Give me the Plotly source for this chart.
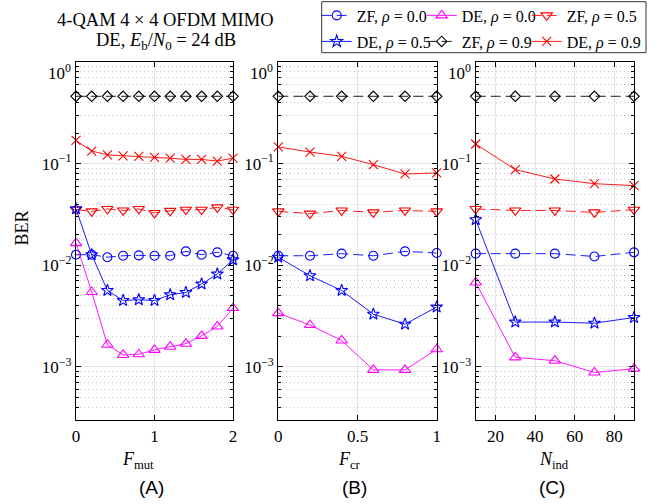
import numpy as np
import plotly.graph_objects as go

# ---------------- data ----------------
F_mut = [0.0, 0.2, 0.4, 0.6, 0.8, 1.0, 1.2, 1.4, 1.6, 1.8, 2.0]
F_cr = [0.0, 0.2, 0.4, 0.6, 0.8, 1.0]
N_ind = [10, 30, 50, 70, 90]

# panel (A): BER vs F_mut
zf_rho00_A = [0.0127, 0.0127, 0.0120, 0.0124, 0.0125, 0.0124, 0.0124, 0.0137, 0.0127, 0.0134, 0.0124]
de_rho00_A = [0.0165, 0.00545, 0.00165, 0.00131, 0.00133, 0.00147, 0.00158, 0.00169, 0.00202, 0.0025, 0.00379]
zf_rho05_A = [0.0352, 0.0339, 0.0358, 0.0346, 0.0358, 0.0327, 0.0343, 0.0352, 0.0352, 0.0371, 0.0352]
de_rho05_A = [0.0359, 0.0127, 0.00565, 0.0045, 0.00457, 0.0045, 0.00512, 0.0054, 0.00653, 0.00819, 0.0113]
zf_rho09_A = [0.46, 0.46, 0.46, 0.46, 0.46, 0.46, 0.46, 0.46, 0.46, 0.46, 0.46]
de_rho09_A = [0.169, 0.133, 0.122, 0.119, 0.118, 0.115, 0.113, 0.110, 0.110, 0.106, 0.113]

# panel (B): BER vs F_cr
zf_rho00_B = [0.0124, 0.0124, 0.0130, 0.0124, 0.0137, 0.0132]
de_rho00_B = [0.00338, 0.00258, 0.00182, 0.000934, 0.000934, 0.00149]
zf_rho05_B = [0.0339, 0.0322, 0.0346, 0.0331, 0.0346, 0.0339]
de_rho05_B = [0.0120, 0.00788, 0.00565, 0.0033, 0.00263, 0.00388]
zf_rho09_B = [0.46, 0.46, 0.46, 0.46, 0.46, 0.46]
de_rho09_B = [0.146, 0.130, 0.118, 0.0977, 0.0791, 0.081]

# panel (C): BER vs N_ind
zf_rho00_C = [0.0130, 0.0130, 0.0130, 0.0122, 0.0134]
de_rho00_C = [0.00677, 0.00124, 0.00115, 0.00088, 0.00096]
zf_rho05_C = [0.0358, 0.0346, 0.0346, 0.0331, 0.0352]
de_rho05_C = [0.0281, 0.00276, 0.00276, 0.00269, 0.00306]
zf_rho09_C = [0.46, 0.46, 0.46, 0.46, 0.46]
de_rho09_C = [0.156, 0.0873, 0.0706, 0.0635, 0.0607]

series_names = ["ZF, <i>ρ</i> = 0.0", "DE, <i>ρ</i> = 0.0", "ZF, <i>ρ</i> = 0.5",
                "DE, <i>ρ</i> = 0.5", "ZF, <i>ρ</i> = 0.9", "DE, <i>ρ</i> = 0.9"]
y_tick_vals = [1e-3, 1e-2, 1e-1, 1]
y_tick_text = ["10<sup>−3</sup>", "10<sup>−2</sup>", "10<sup>−1</sup>", ""]
y_top_label = "10<sup>0</sup>"
x_titles = ["<i>F</i><sub>mut</sub>", "<i>F</i><sub>cr</sub>", "<i>N</i><sub>ind</sub>"]
panel_labels = ["(A)", "(B)", "(C)"]

# ---------------- styling ----------------
W, H = 665, 504
ML, MR, MT, MB = 76, 31, 62, 84
PW = W - ML - MR
PH = H - MT - MB
def px_x(px):
    return (px - ML) / PW
def px_y(py):
    return (H - MB - py) / PH

SERIF = "Liberation Serif"
styles = [
    dict(color="#0000ff", symbol="circle-open", size=9, dash="10px,5px"),
    dict(color="#ff00ff", symbol="triangle-up-open", size=10, dash="solid"),
    dict(color="#ff0000", symbol="triangle-down-open", size=10, dash="10px,5px"),
    dict(color="#0000ff", symbol="star-open", size=9, dash="solid"),
    dict(color="#000000", symbol="diamond-open", size=8, dash="10px,5px"),
    dict(color="#ff0000", symbol="x-thin-open", size=9, dash="solid"),
]
legend_of = ["legend", "legend", "legend", "legend2", "legend2", "legend2"]
legend_w = [60, 60, 80, 60, 60, 80]

panels = [
    (F_mut, [zf_rho00_A, de_rho00_A, zf_rho05_A, de_rho05_A, zf_rho09_A, de_rho09_A]),
    (F_cr, [zf_rho00_B, de_rho00_B, zf_rho05_B, de_rho05_B, zf_rho09_B, de_rho09_B]),
    (N_ind, [zf_rho00_C, de_rho00_C, zf_rho05_C, de_rho05_C, zf_rho09_C, de_rho09_C]),
]
x_ranges = [[0, 2], [0, 1], [10, 90]]
x_ticks = [[0, 1, 2], [0, 0.5, 1], [20, 40, 60, 80]]
dom_px = [(76, 233), (278.3, 436.7), (475.7, 634)]

fig = go.Figure()
for p, (xs, ys_list) in enumerate(panels):
    sfx = "" if p == 0 else str(p + 1)
    for s, ys in enumerate(ys_list):
        st = styles[s]
        fig.add_trace(go.Scatter(
            x=xs, y=ys, mode="lines+markers",
            name=series_names[s], legend=legend_of[s], legendgroup=str(s),
            legendwidth=legend_w[s],
            showlegend=(p == 0),
            xaxis="x" + sfx, yaxis="y" + sfx,
            line=dict(color=st["color"], width=0.9, dash=st["dash"]),
            marker=dict(symbol=st["symbol"], size=st["size"], color=st["color"],
                        line=dict(color=st["color"], width=1.1)),
            cliponaxis=False,
        ))

minor_vals = [m * 10.0 ** e for e in range(-4, 0) for m in range(2, 10)]
tickfont = dict(family=SERIF, size=17, color="black")
layout = dict(
    width=W, height=H, margin=dict(l=ML, r=MR, t=MT, b=MB, autoexpand=False),
    paper_bgcolor="white", plot_bgcolor="white", showlegend=True,
    font=dict(family=SERIF, color="black"),
)
for p in range(3):
    sfx = "" if p == 0 else str(p + 1)
    a, b = dom_px[p]
    layout["xaxis" + sfx] = dict(
        domain=[px_x(a), px_x(b)], anchor="y" + sfx, range=x_ranges[p],
        tickmode="array", tickvals=x_ticks[p], ticks="inside", ticklen=5,
        tickcolor="black", showline=True, linecolor="black", linewidth=1.2,
        mirror="ticks", showgrid=True, gridcolor="#e4e4e4", gridwidth=1,
        zeroline=False, tickfont=tickfont,
    )
    layout["yaxis" + sfx] = dict(
        domain=[0, 1], anchor="x" + sfx, type="log", range=[np.log10(3e-4), 0],
        tickmode="array", tickvals=y_tick_vals, ticktext=y_tick_text,
        ticks="inside", ticklen=5, tickcolor="black", showline=True,
        linecolor="black", linewidth=1.2, mirror="ticks", showgrid=True,
        gridcolor="#e4e4e4", gridwidth=1, zeroline=False, tickfont=tickfont,
        minor=dict(tickmode="array", tickvals=minor_vals, ticks="inside", ticklen=3,
                   tickcolor="black", showgrid=True, gridcolor="#c8c8c8",
                   griddash="1px,3px", gridwidth=1),
    )

legend_common = dict(
    orientation="h", xanchor="left", yanchor="middle", entrywidth=60,
    entrywidthmode="pixels", font=dict(family=SERIF, size=16, color="black"),
    bgcolor="rgba(0,0,0,0)", borderwidth=0, traceorder="normal",
)
layout["legend"] = dict(legend_common, x=px_x(316.7), y=px_y(15.5))
layout["legend2"] = dict(legend_common, x=px_x(316.7), y=px_y(41.5))
fig.update_layout(**layout)

# legend frame
fig.add_shape(type="rect", xref="paper", yref="paper",
              x0=px_x(321.7), x1=px_x(646), y0=px_y(52.7), y1=px_y(1.7),
              line=dict(color="#333333", width=1), fillcolor="rgba(0,0,0,0)")

ann = []
ann.append(dict(text="4-QAM 4 × 4 OFDM MIMO", x=px_x(165), y=px_y(20),
                font=dict(family=SERIF, size=18.5, color="black")))
ann.append(dict(text="DE, <i>E</i><sub>b</sub>/<i>N</i><sub>0</sub> = 24 dB", x=px_x(166), y=px_y(42),
                font=dict(family=SERIF, size=18.5, color="black")))
ann.append(dict(text="BER", x=px_x(21.5), y=px_y(228), textangle=-90,
                font=dict(family=SERIF, size=18, color="black")))
for p, cx in enumerate([138, 349, 554]):
    ann.append(dict(text=x_titles[p], x=px_x(cx), y=px_y(460),
                    font=dict(family=SERIF, size=18, color="black")))
for p, cx in enumerate([151, 354, 552]):
    ann.append(dict(text=panel_labels[p], x=px_x(cx), y=px_y(488),
                    font=dict(family="Liberation Sans", size=19, color="black")))
for a in ann:
    fig.add_annotation(xref="paper", yref="paper", showarrow=False,
                       xanchor="center", yanchor="middle", borderpad=0, **a)
# top decade label, drawn slightly below the axis top as in the reference
for p in range(3):
    a, _ = dom_px[p]
    fig.add_annotation(xref="paper", yref="paper", showarrow=False,
                       x=px_x(a - 3), y=px_y(72), xanchor="right", yanchor="middle",
                       text=y_top_label, font=tickfont)

fig.write_html("out.html")
